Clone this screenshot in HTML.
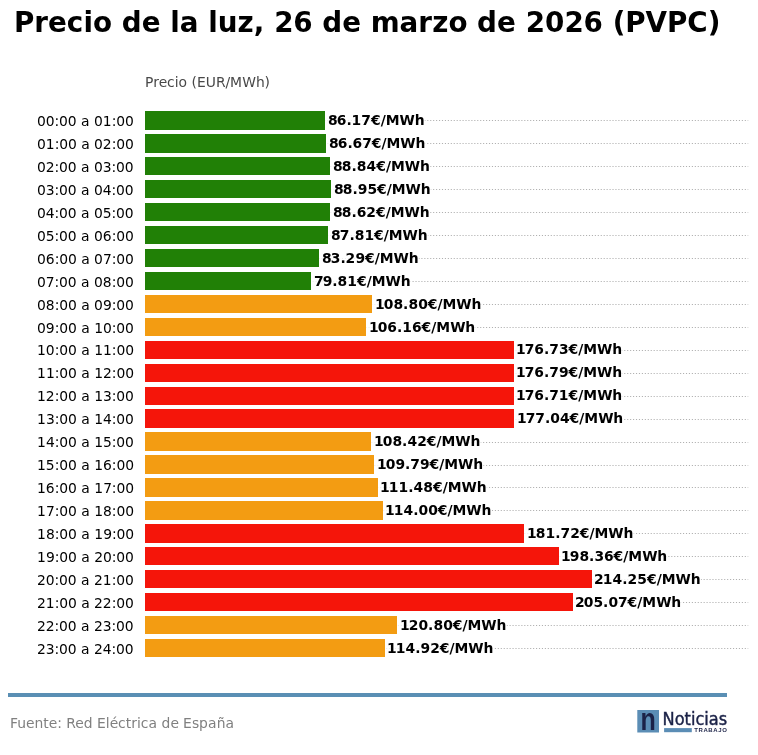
<!DOCTYPE html>
<html lang="es"><head><meta charset="utf-8"><title>Precio de la luz</title>
<style>
html,body{margin:0;padding:0;background:#fff;}
svg{display:block;will-change:transform;}
text{font-family:"DejaVu Sans","Liberation Sans",sans-serif;white-space:pre;}
.t{font-size:27.78px;font-weight:bold;fill:#000;}
.yl{font-size:13.89px;fill:#000;}
.vl{font-size:13.89px;font-weight:bold;fill:#000;}
.ax{font-size:13.89px;fill:#484848;}
.src{font-size:13.89px;fill:#808080;}
</style></head><body>
<svg width="758" height="755" viewBox="0 0 758 755">
<rect width="758" height="755" fill="#fff"/>
<text class="t" x="13.94 34.18 48.12 66.85 83.43 93.07 117.28 121.68 141.74 165.78 170.18 179.75 203.78 208.18 217.65 237.54 253.79 269.75 274.15 293.36 317.91 322.31 342.37 366.29 370.69 399.62 418.31 432.15 448.44 472.66 477.06 497.12 521.26 525.66 544.91 564.4 583.61 608.23 612.63 625.32 645.61 667.06 687.28 707.82" y="32">Precio de la luz, 26 de marzo de 2026 (PVPC)</text>
<text class="ax" x="145.02 153.14 158.67 167.12 174.79 178.6 187.16 191.56 196.89 205.8 215.95 225.5 230.12 242.13 255.89 264.61" y="87">Precio (EUR/MWh)</text>
<g stroke="#b0b0b0" stroke-width="1.11" stroke-dasharray="1.11 1.83" fill="none">
<line x1="145" y1="120.5" x2="748.2" y2="120.5"/>
<line x1="145" y1="143.5" x2="748.2" y2="143.5"/>
<line x1="145" y1="166.5" x2="748.2" y2="166.5"/>
<line x1="145" y1="189.5" x2="748.2" y2="189.5"/>
<line x1="145" y1="212.5" x2="748.2" y2="212.5"/>
<line x1="145" y1="235.5" x2="748.2" y2="235.5"/>
<line x1="145" y1="258.5" x2="748.2" y2="258.5"/>
<line x1="145" y1="281.5" x2="748.2" y2="281.5"/>
<line x1="145" y1="304.5" x2="748.2" y2="304.5"/>
<line x1="145" y1="327.5" x2="748.2" y2="327.5"/>
<line x1="145" y1="350.5" x2="748.2" y2="350.5"/>
<line x1="145" y1="373.5" x2="748.2" y2="373.5"/>
<line x1="145" y1="396.5" x2="748.2" y2="396.5"/>
<line x1="145" y1="419.5" x2="748.2" y2="419.5"/>
<line x1="145" y1="442.5" x2="748.2" y2="442.5"/>
<line x1="145" y1="465.5" x2="748.2" y2="465.5"/>
<line x1="145" y1="487.5" x2="748.2" y2="487.5"/>
<line x1="145" y1="510.5" x2="748.2" y2="510.5"/>
<line x1="145" y1="533.5" x2="748.2" y2="533.5"/>
<line x1="145" y1="556.5" x2="748.2" y2="556.5"/>
<line x1="145" y1="579.5" x2="748.2" y2="579.5"/>
<line x1="145" y1="602.5" x2="748.2" y2="602.5"/>
<line x1="145" y1="625.5" x2="748.2" y2="625.5"/>
<line x1="145" y1="648.5" x2="748.2" y2="648.5"/>
</g>
<g shape-rendering="crispEdges">
<rect x="145" y="111" width="180" height="19" fill="#218006"/>
<rect x="145" y="134" width="181" height="19" fill="#218006"/>
<rect x="145" y="157" width="185" height="18" fill="#218006"/>
<rect x="145" y="180" width="186" height="18" fill="#218006"/>
<rect x="145" y="203" width="185" height="18" fill="#218006"/>
<rect x="145" y="226" width="183" height="18" fill="#218006"/>
<rect x="145" y="249" width="174" height="18" fill="#218006"/>
<rect x="145" y="272" width="166" height="18" fill="#218006"/>
<rect x="145" y="295" width="227" height="18" fill="#f39c12"/>
<rect x="145" y="318" width="221" height="18" fill="#f39c12"/>
<rect x="145" y="341" width="369" height="18" fill="#f5150a"/>
<rect x="145" y="364" width="369" height="18" fill="#f5150a"/>
<rect x="145" y="387" width="369" height="18" fill="#f5150a"/>
<rect x="145" y="409" width="369" height="19" fill="#f5150a"/>
<rect x="145" y="432" width="226" height="19" fill="#f39c12"/>
<rect x="145" y="455" width="229" height="19" fill="#f39c12"/>
<rect x="145" y="478" width="233" height="19" fill="#f39c12"/>
<rect x="145" y="501" width="238" height="19" fill="#f39c12"/>
<rect x="145" y="524" width="379" height="19" fill="#f5150a"/>
<rect x="145" y="547" width="414" height="18" fill="#f5150a"/>
<rect x="145" y="570" width="447" height="18" fill="#f5150a"/>
<rect x="145" y="593" width="428" height="18" fill="#f5150a"/>
<rect x="145" y="616" width="252" height="18" fill="#f39c12"/>
<rect x="145" y="639" width="240" height="18" fill="#f39c12"/>
</g>
<rect x="325" y="112" width="100.03" height="17" fill="#fff" fill-opacity="0.78"/>
<text class="vl" x="328.02 336.74 346.39 351.6 361.35 370.96 380.65 385.73 399.5 414.73" y="125">86.17€/MWh</text>
<text class="yl" x="36.95 45.69 54.58 59.07 67.82 76.63 81.03 89.55 93.95 102.72 111.67 116.18 124.95" y="126">00:00 a 01:00</text>
<rect x="326" y="135" width="99.88" height="17" fill="#fff" fill-opacity="0.78"/>
<text class="vl" x="329.02 337.74 347.39 352.61 362.23 371.83 381.52 386.59 400.37 415.58" y="148">86.67€/MWh</text>
<text class="yl" x="36.95 45.72 54.67 59.18 67.95 76.76 81.16 89.67 94.07 102.81 111.67 116.18 124.95" y="149">01:00 a 02:00</text>
<rect x="330" y="158" width="100.27" height="17" fill="#fff" fill-opacity="0.78"/>
<text class="vl" x="333.02 341.77 351.54 356.77 366.52 376.2 385.9 390.98 404.75 419.97" y="171">88.84€/MWh</text>
<text class="yl" x="36.95 45.68 54.58 59.07 67.82 76.63 81.03 89.55 93.95 102.8 111.58 116.07 124.82" y="172">02:00 a 03:00</text>
<rect x="331" y="181" width="100.17" height="17" fill="#fff" fill-opacity="0.78"/>
<text class="vl" x="334.02 342.77 352.54 357.78 367.42 377.08 386.77 391.85 405.62 420.87" y="194">88.95€/MWh</text>
<text class="yl" x="36.95 45.8 54.58 59.07 67.82 76.63 81.03 89.55 93.95 102.78 111.58 116.07 124.82" y="195">03:00 a 04:00</text>
<rect x="330" y="204" width="100.17" height="17" fill="#fff" fill-opacity="0.78"/>
<text class="vl" x="333.02 341.77 351.54 356.74 366.37 376.08 385.77 390.85 404.62 419.87" y="217">88.62€/MWh</text>
<text class="yl" x="36.95 45.78 54.58 59.07 67.82 76.63 81.03 89.55 93.95 102.74 111.58 116.07 124.82" y="218">04:00 a 05:00</text>
<rect x="328" y="227" width="100.17" height="17" fill="#fff" fill-opacity="0.78"/>
<text class="vl" x="331.02 339.73 349.39 354.64 364.38 374.08 383.77 388.85 402.62 417.87" y="240">87.81€/MWh</text>
<text class="yl" x="36.95 45.74 54.58 59.07 67.82 76.63 81.03 89.55 93.95 102.74 111.67 116.18 124.95" y="241">05:00 a 06:00</text>
<rect x="319" y="250" width="100.03" height="17" fill="#fff" fill-opacity="0.78"/>
<text class="vl" x="322.02 330.76 340.39 345.62 355.4 364.96 374.65 379.73 393.5 408.73" y="263">83.29€/MWh</text>
<text class="yl" x="36.95 45.74 54.67 59.18 67.95 76.76 81.16 89.67 94.07 102.91 111.67 116.18 124.95" y="264">06:00 a 07:00</text>
<rect x="311" y="273" width="100.03" height="17" fill="#fff" fill-opacity="0.78"/>
<text class="vl" x="313.98 322.65 332.23 337.51 347.26 356.96 366.65 371.73 385.5 400.73" y="286">79.81€/MWh</text>
<text class="yl" x="36.95 45.78 54.58 59.07 67.82 76.63 81.03 89.55 93.95 102.84 111.67 116.18 124.95" y="287">07:00 a 08:00</text>
<rect x="372" y="296" width="109.74" height="17" fill="#fff" fill-opacity="0.78"/>
<text class="vl" x="375.01 383.75 393.38 403.08 408.38 418.13 427.71 437.39 442.45 456.25 471.44" y="309">108.80€/MWh</text>
<text class="yl" x="36.95 45.84 54.67 59.18 67.95 76.76 81.16 89.67 94.07 102.9 111.76 116.3 125.07" y="310">08:00 a 09:00</text>
<rect x="366" y="319" width="109.61" height="17" fill="#fff" fill-opacity="0.78"/>
<text class="vl" x="369.01 377.75 387.35 396.99 402.26 411.99 421.58 431.26 436.33 450.13 465.31" y="332">106.16€/MWh</text>
<text class="yl" x="36.95 45.78 54.67 59.18 67.95 76.76 81.16 89.75 94.15 102.95 111.76 116.3 125.07" y="333">09:00 a 10:00</text>
<rect x="514" y="341" width="108.49" height="17" fill="#fff" fill-opacity="0.78"/>
<text class="vl" x="516.01 524.73 534.35 543.99 549.23 558.88 568.45 578.14 583.2 597 612.19" y="354">176.73€/MWh</text>
<text class="yl" x="37.04 45.82 54.67 59.18 67.95 76.76 81.16 89.75 94.15 103.04 111.85 116.43 125.18" y="355">10:00 a 11:00</text>
<rect x="514" y="364" width="108.49" height="17" fill="#fff" fill-opacity="0.78"/>
<text class="vl" x="516.01 524.73 534.35 543.99 549.23 558.91 568.45 578.14 583.2 597 612.19" y="377">176.79€/MWh</text>
<text class="yl" x="37.04 45.88 54.76 59.3 68.07 76.88 81.28 89.87 94.27 103.07 111.85 116.43 125.18" y="378">11:00 a 12:00</text>
<rect x="514" y="387" width="108.61" height="17" fill="#fff" fill-opacity="0.78"/>
<text class="vl" x="516.01 524.73 534.35 543.99 549.23 558.87 568.58 578.26 583.33 597.13 612.31" y="400">176.71€/MWh</text>
<text class="yl" x="37.04 45.81 54.67 59.18 67.95 76.76 81.16 89.75 94.15 103.06 111.76 116.3 125.07" y="401">12:00 a 13:00</text>
<rect x="514" y="410" width="109.61" height="17" fill="#fff" fill-opacity="0.78"/>
<text class="vl" x="517.01 525.73 535.35 544.99 550.25 559.92 569.58 579.26 584.33 598.13 613.31" y="423">177.04€/MWh</text>
<text class="yl" x="37.04 45.93 54.67 59.18 67.95 76.76 81.16 89.75 94.15 103 111.76 116.3 125.07" y="424">13:00 a 14:00</text>
<rect x="371" y="433" width="109.88" height="17" fill="#fff" fill-opacity="0.78"/>
<text class="vl" x="374.01 382.75 392.38 402.08 407.39 417.13 426.83 436.52 441.59 455.37 470.58" y="446">108.42€/MWh</text>
<text class="yl" x="37.04 45.89 54.67 59.18 67.95 76.76 81.16 89.75 94.15 102.98 111.76 116.3 125.07" y="447">14:00 a 15:00</text>
<rect x="374" y="456" width="109.49" height="17" fill="#fff" fill-opacity="0.78"/>
<text class="vl" x="377.01 385.75 395.4 404.99 410.23 419.91 429.45 439.14 444.2 458 473.19" y="469">109.79€/MWh</text>
<text class="yl" x="37.04 45.87 54.67 59.18 67.95 76.76 81.16 89.75 94.15 102.99 111.85 116.43 125.18" y="470">15:00 a 16:00</text>
<rect x="378" y="479" width="109.03" height="17" fill="#fff" fill-opacity="0.78"/>
<text class="vl" x="380.01 388.74 398.49 408.23 413.52 423.26 432.96 442.65 447.73 461.5 476.73" y="492">111.48€/MWh</text>
<text class="yl" x="37.04 45.87 54.76 59.3 68.07 76.88 81.28 89.87 94.27 103.16 111.85 116.43 125.18" y="493">16:00 a 17:00</text>
<rect x="383" y="502" width="108.74" height="17" fill="#fff" fill-opacity="0.78"/>
<text class="vl" x="385.01 393.74 403.52 413.23 418.5 428.13 437.71 447.39 452.45 466.25 481.44" y="515">114.00€/MWh</text>
<text class="yl" x="37.04 45.91 54.67 59.18 67.95 76.76 81.16 89.75 94.15 103.08 111.85 116.43 125.18" y="516">17:00 a 18:00</text>
<rect x="524" y="525" width="109.88" height="17" fill="#fff" fill-opacity="0.78"/>
<text class="vl" x="527.01 535.77 545.49 555.23 560.48 570.13 579.83 589.52 594.59 608.37 623.58" y="538">181.72€/MWh</text>
<text class="yl" x="37.04 45.97 54.76 59.3 68.07 76.88 81.28 89.87 94.27 103.14 111.94 116.56 125.3" y="539">18:00 a 19:00</text>
<rect x="559" y="548" width="108.61" height="17" fill="#fff" fill-opacity="0.78"/>
<text class="vl" x="561.01 569.78 579.38 589.08 594.39 603.99 613.58 623.26 628.33 642.13 657.31" y="561">198.36€/MWh</text>
<text class="yl" x="37.04 45.9 54.76 59.3 68.07 76.88 81.28 89.79 94.19 102.95 111.76 116.3 125.07" y="562">19:00 a 20:00</text>
<rect x="592" y="571" width="109.03" height="17" fill="#fff" fill-opacity="0.78"/>
<text class="vl" x="594 602.74 612.52 622.23 627.5 637.29 646.96 656.65 661.73 675.5 690.73" y="584">214.25€/MWh</text>
<text class="yl" x="36.94 45.69 54.58 59.07 67.82 76.63 81.03 89.54 93.94 102.72 111.67 116.18 124.95" y="585">20:00 a 21:00</text>
<rect x="573" y="594" width="108.61" height="17" fill="#fff" fill-opacity="0.78"/>
<text class="vl" x="575 583.75 593.42 603.08 608.38 617.98 627.58 637.26 642.33 656.13 671.31" y="607">205.07€/MWh</text>
<text class="yl" x="36.94 45.72 54.67 59.18 67.95 76.76 81.16 89.67 94.07 102.81 111.67 116.18 124.95" y="608">21:00 a 22:00</text>
<rect x="397" y="617" width="109.74" height="17" fill="#fff" fill-opacity="0.78"/>
<text class="vl" x="400.01 408.75 418.5 428.08 433.38 443.13 452.71 462.39 467.45 481.25 496.44" y="630">120.80€/MWh</text>
<text class="yl" x="36.94 45.68 54.58 59.07 67.82 76.63 81.03 89.54 93.94 102.8 111.58 116.07 124.82" y="631">22:00 a 23:00</text>
<rect x="385" y="640" width="108.88" height="17" fill="#fff" fill-opacity="0.78"/>
<text class="vl" x="387.01 395.74 405.52 415.23 420.52 430.13 439.83 449.52 454.59 468.37 483.58" y="653">114.92€/MWh</text>
<text class="yl" x="36.94 45.8 54.58 59.07 67.82 76.63 81.03 89.54 93.94 102.78 111.58 116.07 124.82" y="654">23:00 a 24:00</text>
<rect x="8" y="693" width="719" height="4" fill="#5a8fb4"/>
<text class="src" x="9.91 17.17 26.06 34.46 43.24 48.8 57.31 61.88 66.28 75.31 83.79 92.49 96.89 105.79 109.66 118.12 125.79 131.24 136.98 140.86 148.51 157.1 161.5 170.42 178.72 183.12 191.93 199.09 208.03 216.63 225.39" y="728">Fuente: Red Eléctrica de España</text>
<g id="logo">
<rect x="637.3" y="710" width="21.7" height="22.5" fill="#5b8db5"/>
<text x="0" y="0" transform="translate(640.5 729.8) scale(1.25 1.58)" style="font-family:'Liberation Sans','DejaVu Sans',sans-serif;font-weight:bold;font-size:20px;fill:#1b2247">n</text>
<text x="0" y="0" transform="translate(662.6 724.6) scale(0.905 1.01)" style="font-family:'DejaVu Sans','Liberation Sans',sans-serif;font-size:17.9px;fill:#1b2247;stroke:#1b2247;stroke-width:0.45">Noticias</text>
<rect x="664.1" y="728.1" width="27.7" height="4.1" fill="#5b8db5"/>
<text x="694.2" y="732.4" textLength="32.6" lengthAdjust="spacing" style="font-family:'Liberation Sans','DejaVu Sans',sans-serif;font-size:6px;font-weight:bold;fill:#1b2247">TRABAJO</text>
</g>
</svg></body></html>
